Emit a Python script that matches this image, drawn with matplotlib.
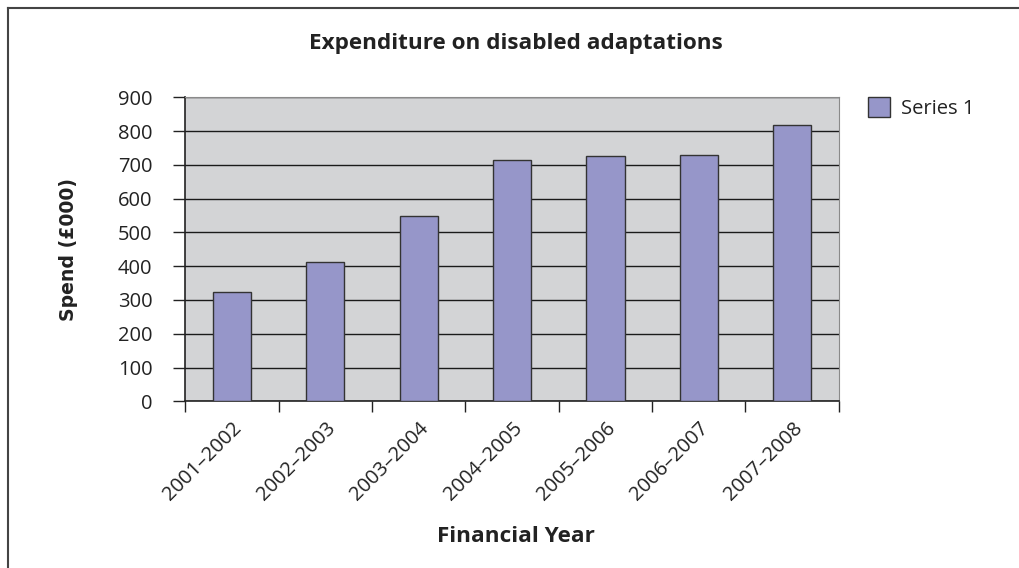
import numpy as np
import matplotlib.pyplot as plt
from matplotlib.lines import Line2D

years = ["2001\u20132002", "2002\u20132003", "2003\u20132004", "2004\u20132005",
         "2005\u20132006", "2006\u20132007", "2007\u20132008"]
spend = [325, 412, 548, 713, 725, 730, 819]
yticks = [0, 100, 200, 300, 400, 500, 600, 700, 800, 900]

plt.rcParams["font.family"] = ["Open Sans", "DejaVu Sans"]

fig = plt.figure(figsize=(10.2, 5.68), dpi=100)
ax = fig.add_axes([0.1817, 0.2935, 0.6406, 0.5352])
ax.set_facecolor("#d3d4d6")

x = np.arange(len(years))
ax.bar(x, spend, width=0.41, color="#9696c9", edgecolor="#333333",
       linewidth=1.0, zorder=3, label="Series 1")

ax.set_xlim(-0.5, len(years) - 0.5)
ax.set_ylim(0, 900)
ax.set_yticks(yticks)
ax.set_yticklabels([str(v) for v in yticks], fontsize=14.5, color="#222222")
ax.yaxis.grid(True, color="#1a1a1a", linewidth=1.0, zorder=1)
ax.set_axisbelow(True)

ax.set_xticks(x)
ax.set_xticklabels(years, rotation=45, ha="right", rotation_mode="anchor",
                   fontsize=14.5, color="#222222")
ax.set_xticks(np.arange(len(years) + 1) - 0.5, minor=True)
ax.tick_params(axis="x", which="major", length=0, pad=12)
ax.tick_params(axis="x", which="minor", length=7.9, width=1.0, color="#222222")
ax.tick_params(axis="y", length=8.6, width=1.0, color="#222222", pad=15)

for s in ["top", "right"]:
    ax.spines[s].set_color("#8a8a8a")
for s in ["left", "bottom"]:
    ax.spines[s].set_color("#222222")
    ax.spines[s].set_linewidth(1.2)

fig.text(0.5054, 0.924, "Expenditure on disabled adaptations", ha="center",
         va="center", fontsize=16.2, fontweight="bold", color="#222222")
fig.text(0.0676, 0.5616, "Spend (\u00a3000)", rotation=90, ha="center",
         va="center", fontsize=13.6, fontweight="bold", color="#222222",
         family="DejaVu Sans")
fig.text(0.506, 0.0546, "Financial Year", ha="center", va="center",
         fontsize=16.2, fontweight="bold", color="#222222")

leg = ax.legend(loc="upper left", bbox_to_anchor=(0.851, 0.829),
                bbox_transform=fig.transFigure, frameon=False, fontsize=14.5,
                borderpad=0, borderaxespad=0,
                handlelength=1.1, handleheight=1.14, handletextpad=0.55)
for t in leg.get_texts():
    t.set_color("#222222")

# figure frame (left and top edges)
fig.add_artist(Line2D([0.0078, 0.0078], [0, 0.986], transform=fig.transFigure,
                      color="#444444", linewidth=1.5))
fig.add_artist(Line2D([0.0078, 1.0], [0.986, 0.986], transform=fig.transFigure,
                      color="#444444", linewidth=1.5))

fig.savefig("out.png", dpi=100)
